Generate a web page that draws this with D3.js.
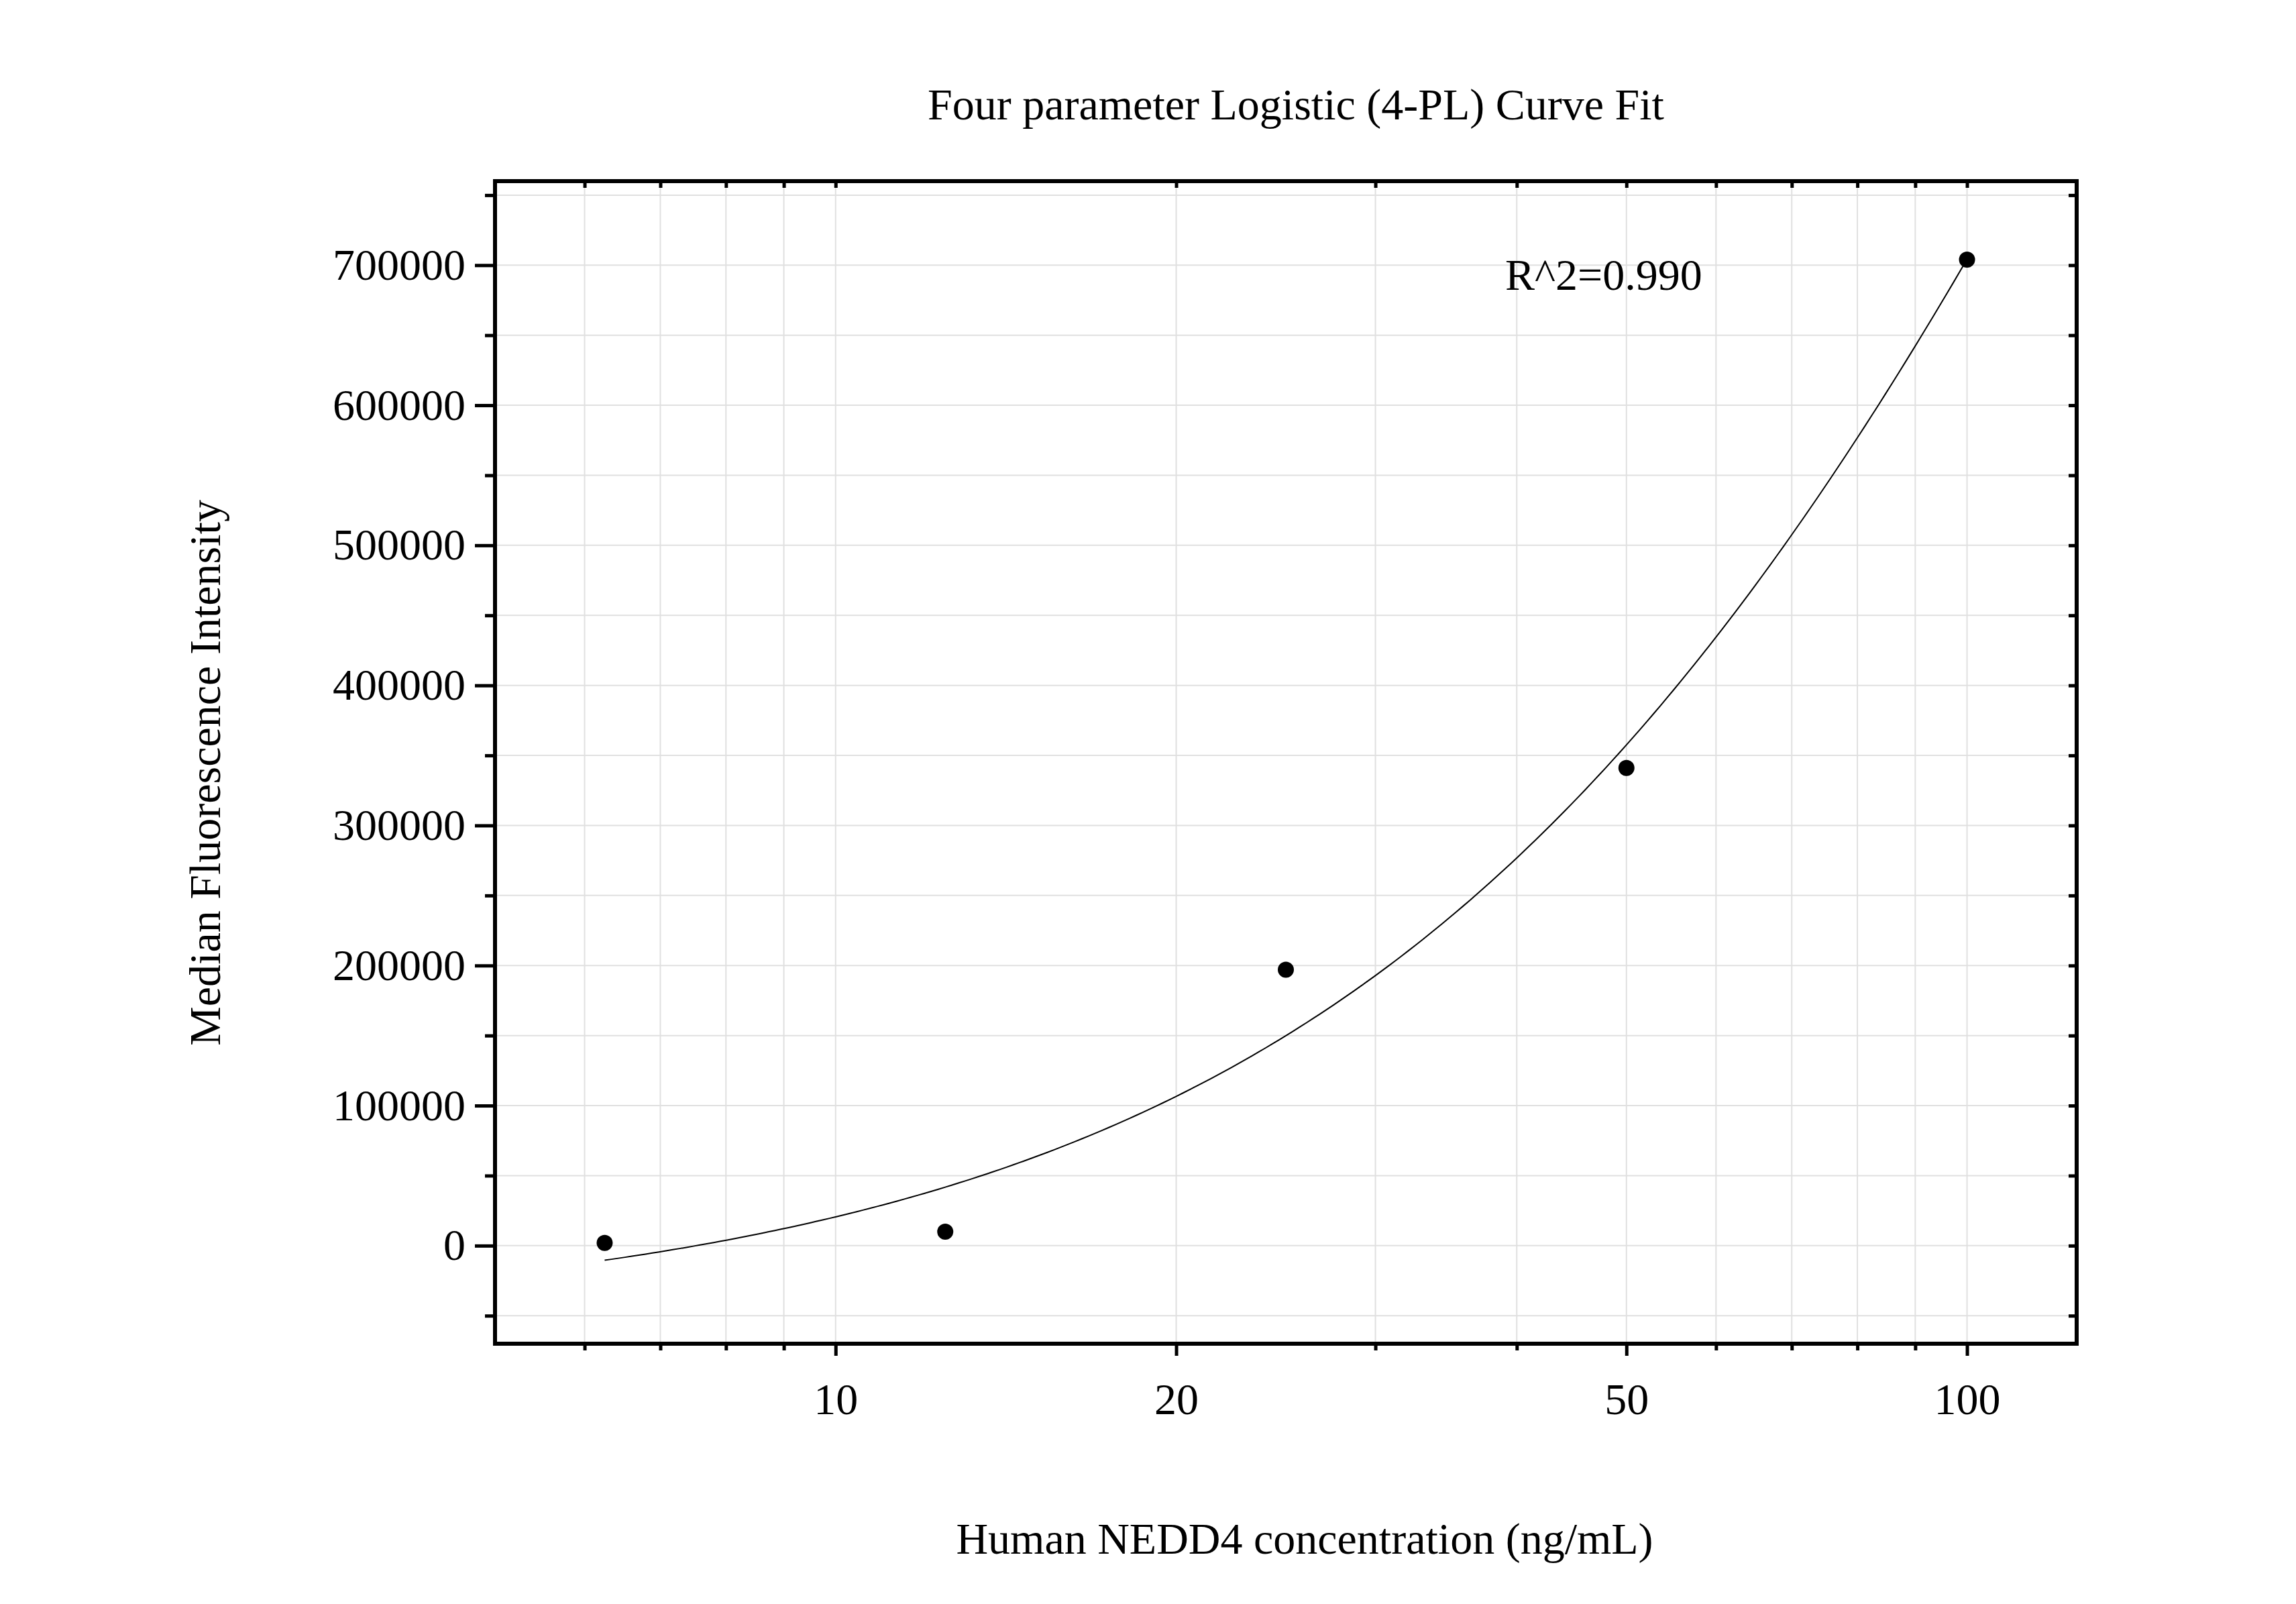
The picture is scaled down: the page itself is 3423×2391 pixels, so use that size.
<!DOCTYPE html>
<html><head><meta charset="utf-8">
<script src="https://cdn.jsdelivr.net/npm/d3@7"></script>
<style>body{margin:0;background:#fff}text{font-family:"Liberation Serif","Times New Roman",serif;fill:#000}</style>
</head><body>
<svg id="c" width="3423" height="2391"></svg>
<script>
const concentrations=[6.25,12.5,25,50,100];
const intensities=[2000,10000,197000,341000,704000];
const yTicks=[0,100000,200000,300000,400000,500000,600000,700000];
const xTicks=[10,20,50,100];
// 4PL fit parameters: bottom, top, EC50, slope
const fitA=-55000, fitD=2389000, fitC=200, fitB=1.15;
const title="Four parameter Logistic (4-PL) Curve Fit";
const xLabel="Human NEDD4 concentration (ng/mL)";
const yLabel="Median Fluorescence Intensity";
const r2="R^2=0.990";

const svg=d3.select("#c");
const L=738,R=3096,T=270,B=2003;
const x=d3.scaleLog().domain([5,125]).range([L,R]);
const y=d3.scaleLinear().domain([-70000,760000]).range([B,T]);
const g=svg.append("g");
const yGrid=d3.range(-50000,760001,50000);
const xGrid=[6,7,8,9,10,20,30,40,50,60,70,80,90,100];
g.selectAll(".gy").data(yGrid).enter().append("line").attr("x1",L).attr("x2",R).attr("y1",d=>y(d)).attr("y2",d=>y(d)).attr("stroke","#e0e0e0").attr("stroke-width",2);
g.selectAll(".gx").data(xGrid).enter().append("line").attr("y1",T).attr("y2",B).attr("x1",d=>x(d)).attr("x2",d=>x(d)).attr("stroke","#e0e0e0").attr("stroke-width",2);
const f=c=>fitA+(fitD-fitA)/(1+Math.pow(fitC/c,fitB));
const cs=d3.range(0,201).map(i=>6.25*Math.pow(100/6.25,i/200));
g.append("path").datum(cs).attr("d",d3.line().x(d=>x(d)).y(d=>y(f(d)))).attr("fill","none").attr("stroke","#000").attr("stroke-width",2);
g.selectAll(".pt").data(concentrations).enter().append("circle").attr("cx",d=>x(d)).attr("cy",(d,i)=>y(intensities[i])).attr("r",12).attr("fill","#000");
g.append("g").attr("transform",`translate(${L},0)`).call(d3.axisLeft(y).tickValues(yTicks).tickFormat(d3.format("d")).tickSize(30).tickPadding(14));
g.append("g").attr("transform",`translate(${L},0)`).call(d3.axisLeft(y).tickValues(yGrid.filter(v=>v%100000!==0)).tickFormat("").tickSize(15));
g.append("g").attr("transform",`translate(${R},0)`).call(d3.axisLeft(y).tickValues(yGrid).tickFormat("").tickSize(12));
g.append("g").attr("transform",`translate(0,${B})`).call(d3.axisBottom(x).tickValues(xTicks).tickFormat(d3.format("d")).tickSize(18).tickPadding(40));
g.append("g").attr("transform",`translate(0,${B})`).call(d3.axisBottom(x).tickValues(xGrid.filter(v=>!xTicks.includes(v))).tickFormat("").tickSize(10));
g.append("g").attr("transform",`translate(0,${T})`).call(d3.axisBottom(x).tickValues(xGrid).tickFormat("").tickSize(10));
g.selectAll(".domain").remove();
g.selectAll(".tick line").attr("stroke","#000").attr("stroke-width",5);
g.selectAll(".tick text").style("font-size","66px").style("font-family","Liberation Serif");
g.append("rect").attr("x",L).attr("y",T).attr("width",R-L).attr("height",B-T).attr("fill","none").attr("stroke","#000").attr("stroke-width",6);
svg.append("text").attr("x",1932).attr("y",178).attr("text-anchor","middle").style("font-size","66px").text(title);
svg.append("text").attr("x",1945).attr("y",2316).attr("text-anchor","middle").style("font-size","66px").text(xLabel);
svg.append("text").attr("transform","translate(328,1152) rotate(-90)").attr("text-anchor","middle").style("font-size","66px").text(yLabel);
svg.append("text").attr("x",2244).attr("y",432).style("font-size","66px").text(r2);
</script></body></html>
